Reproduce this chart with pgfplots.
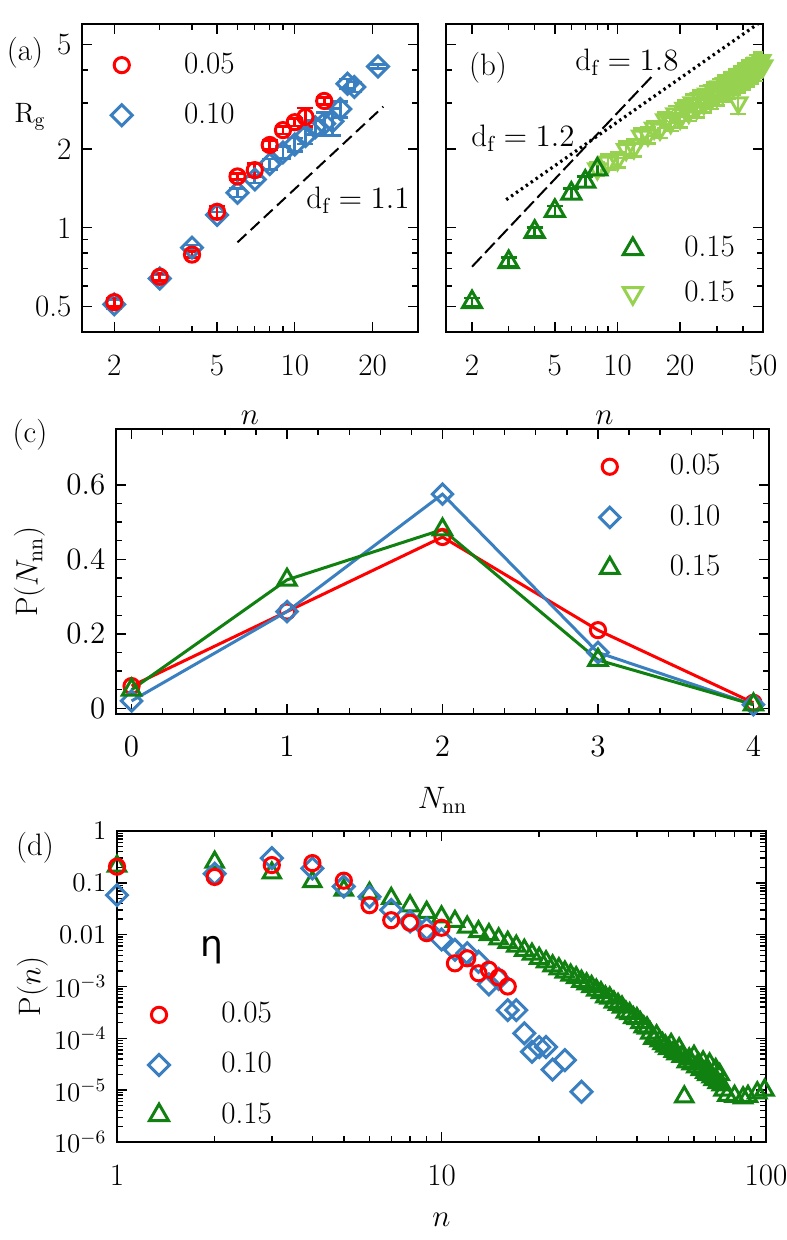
\RequirePackage{fix-cm}
\documentclass[border=0pt]{standalone}
\usepackage{pgfplots}
\pgfplotsset{compat=1.18}
\usepackage{fontspec}
\newfontfamily\dejavu{DejaVu Sans}
\definecolor{cred}{RGB}{255,0,0}
\definecolor{cblue}{RGB}{58,127,192}
\definecolor{cgreen}{RGB}{16,128,16}
\definecolor{clight}{RGB}{150,210,80}
\newcommand{\fs}{\fontsize{15.5}{18}\selectfont}
\pgfplotsset{
 panel/.style={
  scale only axis, anchor=south west,
  axis line style={line width=1.4pt},
  tick align=inside,
  major tick length=5pt, minor tick length=3pt,
  every tick/.style={black, line width=0.7pt},
  tick label style={font=\fs},
  xticklabel style={yshift=-6pt},
  label style={font=\fs},
  legend style={draw=none, fill=none, font=\fs, inner sep=0pt, nodes={inner sep=1pt}},
  legend cell align=left,
  legend image code/.code={\draw[##1] plot coordinates {(0pt,0pt)};},
 },
 eb/.style={error bars/.cd, y dir=both, y explicit, error bar style={line width=1.3pt}, error mark options={rotate=90, mark size=4pt, line width=1.3pt}},
 circ/.style={only marks, mark=o, mark size=3.8pt, mark options={line width=1.5pt, solid}},
 diam/.style={only marks, mark=square, mark size=3.7pt, mark options={rotate=45, line width=1.5pt, solid}},
 tri/.style={only marks, mark=triangle, mark size=5.5pt, mark options={line width=1.5pt, solid}},
 dtri/.style={only marks, mark=triangle, mark size=5.5pt, mark options={rotate=180, line width=1.5pt, solid}},
}
\begin{document}
\fs
\begin{tikzpicture}
% ---------------- (a)
\begin{axis}[panel, at={(41pt,454pt)}, width=168pt, height=154pt,
 xmode=log, ymode=log, xmin=1.5, xmax=30, ymin=0.4, ymax=6,
 xtick={2,5,10,20}, xticklabels={2,5,10,20}, minor xtick={3,4,6,7,8,9},
 ytick={0.5,1,2,5}, yticklabels={0.5,1,2,5}, minor ytick={0.6,0.7,0.8,0.9,3,4},
 xlabel={$n$}, xlabel style={yshift=-7pt},
 legend style={at={(0.086,0.915)}, anchor=north west, row sep=10.5pt}]
\addplot[cblue, diam, forget plot, eb] coordinates {
 (2,0.51) +- (0,0.02) (3,0.64) +- (0,0.02) (4,0.84) +- (0,0.02) (5,1.12) +- (0,0.03)
 (6,1.36) +- (0,0.05) (7,1.53) +- (0,0.05) (8,1.75) +- (0,0.08) (9,1.94) +- (0,0.10)
 (10,2.08) +- (0,0.12) (11,2.24) +- (0,0.15) (12,2.42) +- (0,0.15) (13,2.50) +- (0,0.25)
 (14,2.55) +- (0,0.30) (15,2.84) +- (0,0.20) (16,3.55) +- (0,0.15) (17,3.45) +- (0,0.15)
 (21,4.13) +- (0,0.08)};
\addplot[cred, circ, forget plot, eb] coordinates {
 (2,0.52) +- (0,0.02) (3,0.65) +- (0,0.02) (4,0.79) +- (0,0.02) (5,1.15) +- (0,0.06)
 (6,1.57) +- (0,0.04) (7,1.66) +- (0,0.10) (8,2.07) +- (0,0.08) (9,2.36) +- (0,0.08)
 (10,2.53) +- (0,0.08) (11,2.65) +- (0,0.22) (13,3.05) +- (0,0.10)};
\addplot[black, line width=1pt, dash pattern=on 6pt off 3pt, forget plot] coordinates {(6,0.88) (22,2.9)};
\addlegendimage{cred, circ}\addlegendentry{\hspace{25pt}0.05}
\addlegendimage{cblue, diam}\addlegendentry{\hspace{25pt}0.10}
\end{axis}
% ---------------- (b)
\begin{axis}[panel, at={(223pt,454pt)}, width=158.5pt, height=154pt,
 xmode=log, ymode=log, xmin=1.5, xmax=50, ymin=0.4, ymax=6,
 xtick={2,5,10,20,50}, xticklabels={2,5,10,20,50}, minor xtick={3,4,6,7,8,9,30,40},
 ytick={0.5,1,2,5}, yticklabels={}, minor ytick={0.6,0.7,0.8,0.9,3,4},
 xlabel={$n$}, xlabel style={yshift=-7pt},
 legend style={at={(0.558,0.318)}, anchor=north west, row sep=7.5pt}]
\addplot[black, line width=1pt, dash pattern=on 7pt off 2.5pt, forget plot] coordinates {(2,0.71) (14.7,3.8)};
\addplot[black, line width=1.6pt, dash pattern=on 1.2pt off 1.8pt, forget plot] coordinates {(2.92,1.28) (50,6.2)};
\addplot[clight, dtri, mark size=5pt, forget plot, eb] coordinates {
 (8,1.68) +- (0,0.1) (9,1.78) +- (0,0.12) (10,1.82) +- (0,0.12) (11,1.99) +- (0,0.14) (12,2.02) +- (0,0.15)
 (13,2.24) +- (0,0.15) (14,2.26) +- (0,0.16) (15,2.40) +- (0,0.16) (16,2.38) +- (0,0.18)
 (17,2.58) +- (0,0.18) (18,2.52) +- (0,0.18) (19,2.72) +- (0,0.2) (20,2.62) +- (0,0.2)
 (21,2.86) +- (0,0.2) (22,2.76) +- (0,0.2) (23,3.00) +- (0,0.22) (24,2.86) +- (0,0.22)
 (25,3.12) +- (0,0.22) (26,2.98) +- (0,0.22) (27,3.24) +- (0,0.24) (28,3.08) +- (0,0.24)
 (29,3.34) +- (0,0.24) (30,3.18) +- (0,0.25) (31,3.45) +- (0,0.25) (32,3.28) +- (0,0.25)
 (33,3.55) +- (0,0.26) (34,3.38) +- (0,0.26) (35,3.65) +- (0,0.27) (36,3.48) +- (0,0.27)
 (37,3.75) +- (0,0.27) (38,3.00) +- (0,0.28) (39,3.85) +- (0,0.28) (40,3.66) +- (0,0.28)
 (41,3.95) +- (0,0.3) (42,3.76) +- (0,0.3) (43,4.05) +- (0,0.3) (44,3.86) +- (0,0.3)
 (45,4.15) +- (0,0.3) (46,3.95) +- (0,0.32) (47,4.25) +- (0,0.32) (48,4.05) +- (0,0.32)
 (49,4.35) +- (0,0.32) (50,4.15) +- (0,0.34)};
\addplot[cgreen, tri, forget plot, eb] coordinates {
 (2,0.52) +- (0,0.02) (3,0.74) +- (0,0.03) (4,0.965) +- (0,0.04) (5,1.16) +- (0,0.05)
 (6,1.35) +- (0,0.06) (7,1.50) +- (0,0.07) (8,1.67) +- (0,0.08)};
\addlegendimage{cgreen, tri}\addlegendentry{\hspace{20pt}0.15}
\addlegendimage{clight, dtri}\addlegendentry{\hspace{20pt}0.15}
\end{axis}
% ---------------- (c)
\begin{axis}[panel, at={(58pt,263pt)}, width=326.5pt, height=142.5pt,
 xmin=-0.1, xmax=4.1, ymin=-0.015, ymax=0.75,
 xtick={0,1,2,3,4}, ytick={0,0.2,0.4,0.6}, minor x tick num=4, minor y tick num=3,
 xlabel={$N_\mathrm{nn}$}, xlabel style={yshift=-5pt}, ylabel={P($N_\mathrm{nn}$)},
 legend style={at={(0.74,0.92)}, anchor=north west, row sep=10.75pt}]
\addplot[cred, line width=1.5pt, mark=o, mark size=3.8pt, mark options={line width=1.5pt, solid}] coordinates {(0,0.06) (1,0.26) (2,0.46) (3,0.21) (4,0.015)};
\addlegendentry{\hspace{24pt}0.05}
\addplot[cblue, line width=1.5pt, mark=square, mark size=3.6pt, mark options={rotate=45, line width=1.5pt, solid}] coordinates {(0,0.02) (1,0.26) (2,0.575) (3,0.15) (4,0.01)};
\addlegendentry{\hspace{24pt}0.10}
\addplot[cgreen, line width=1.5pt, mark=triangle, mark size=5.3pt, mark options={line width=1.5pt, solid}] coordinates {(0,0.05) (1,0.345) (2,0.48) (3,0.13) (4,0.01)};
\addlegendentry{\hspace{24pt}0.15}
\end{axis}
% ---------------- (d)
\begin{axis}[panel, at={(58.5pt,49pt)}, width=324.5pt, height=155.5pt,
 xmode=log, ymode=log, xmin=1, xmax=100, ymin=1e-6, ymax=1,
 xtick={1,10,100}, xticklabels={1,10,100},
 minor xtick={2,3,4,5,6,7,8,9,20,30,40,50,60,70,80,90},
 ytick={1e-6,1e-5,1e-4,1e-3,0.01,0.1,1},
 yticklabels={$10^{-6}$,$10^{-5}$,$10^{-4}$,$10^{-3}$,0.01,0.1,1},
 yticklabel style={font=\fontsize{13.5}{16}\selectfont},
 minor ytick={2e-6,3e-6,4e-6,5e-6,6e-6,7e-6,8e-6,9e-6,2e-5,3e-5,4e-5,5e-5,6e-5,7e-5,8e-5,9e-5,
  2e-4,3e-4,4e-4,5e-4,6e-4,7e-4,8e-4,9e-4,2e-3,3e-3,4e-3,5e-3,6e-3,7e-3,8e-3,9e-3,
  0.02,0.03,0.04,0.05,0.06,0.07,0.08,0.09,0.2,0.3,0.4,0.5,0.6,0.7,0.8,0.9},
 xlabel={$n$}, xlabel style={yshift=-3pt}, ylabel={P($n$)},
 ylabel style={at={(axis description cs:-0.13,0.5)}, anchor=center},
 legend style={at={(0.048,0.457)}, anchor=north west, row sep=10.5pt}]
\addplot[cgreen, tri, mark size=5pt, forget plot] coordinates {
 (1,0.21)(2,0.25)(3,0.155)(4,0.105)(5,0.072)(6,0.063)(7,0.05)(8,0.036)(9,0.027)(10,0.022)
 (11,0.018)(12,0.014)(13,0.0114)(14,0.010)(15,8.3e-3)(16,7.1e-3)(17,6.0e-3)(18,5.0e-3)(19,4.2e-3)(20,3.5e-3)
 (21,3.0e-3)(22,2.5e-3)(23,2.2e-3)(24,1.9e-3)(25,1.66e-3)(26,1.48e-3)(27,1.26e-3)(28,1.12e-3)(29,1.0e-3)(30,8.5e-4)
 (31,7.6e-4)(32,6.3e-4)(33,6.0e-4)(34,5.0e-4)(35,4.5e-4)(36,4.0e-4)(37,3.2e-4)(38,3.0e-4)(39,2.5e-4)(40,2.4e-4)
 (41,2.0e-4)(42,1.66e-4)(43,1.58e-4)(44,1.26e-4)(45,1.0e-4)(46,1.12e-4)(47,8.9e-5)(48,7.9e-5)(49,7.1e-5)(50,6.3e-5)
 (51,7.6e-5)(52,5.6e-5)(53,5.0e-5)(54,6.3e-5)(55,4.5e-5)(56,7.4e-6)(57,3.5e-5)(58,4.0e-5)(59,3.2e-5)(60,4.5e-5)
 (61,2.8e-5)(62,3.2e-5)(63,2.5e-5)(64,3.5e-5)(65,2.2e-5)(66,2.0e-5)(67,3.2e-5)(68,1.8e-5)(69,1.6e-5)(70,2.5e-5)
 (71,1.4e-5)(72,2.0e-5)(73,1.26e-5)(74,1.0e-5)(76,7.9e-6)(80,7.6e-6)(85,7.1e-6)(88,7.6e-6)(94,8.9e-6)(99,1.0e-5)};
\addplot[cblue, diam, forget plot] coordinates {
 (1,0.058)(2,0.15)(3,0.30)(4,0.19)(5,0.085)(6,0.054)(7,0.030)(8,0.018)(9,0.013)(10,0.0081)
 (11,0.0051)(12,0.0044)(13,0.0030)(14,0.0011)(15,0.0014)(16,3.5e-4)(17,3.5e-4)(18,1.25e-4)(19,5.5e-5)(20,6.8e-5)
 (21,6.8e-5)(22,2.5e-5)(24,3.8e-5)(27,9.3e-6)};
\addplot[cred, circ, forget plot] coordinates {
 (1,0.205)(2,0.13)(3,0.22)(4,0.24)(5,0.11)(6,0.037)(7,0.019)(8,0.017)(9,0.0107)(10,0.0136)
 (11,0.0028)(12,0.0035)(13,0.0018)(14,0.0021)(15,0.0015)(16,0.001)};
\addlegendimage{cred, circ}\addlegendentry{\hspace{25pt}0.05}
\addlegendimage{cblue, diam}\addlegendentry{\hspace{25pt}0.10}
\addlegendimage{cgreen, tri}\addlegendentry{\hspace{25pt}0.15}
\end{axis}
% ---------------- texts
\begin{scope}[x=0.5pt,y=0.5pt]
\node at (25,1187) {(a)};
\node at (30,1123) {\fontsize{14}{16}\selectfont R$_\mathrm{g}$};
\node at (488,1172) {(b)};
\node at (627,1178) {$\mathrm{d_f} = 1.8$};
\node at (523,1102) {$\mathrm{d_f} = 1.2$};
\node at (358,1040) {$\mathrm{d_f} = 1.1$};
\node at (30,805) {(c)};
\node at (35,392) {(d)};
\node at (212,290) {\dejavu\fontsize{18}{20}\selectfont η};
\end{scope}
\pgfresetboundingbox
\path (0,0) rectangle (393pt,620pt);
\end{tikzpicture}
\end{document}
